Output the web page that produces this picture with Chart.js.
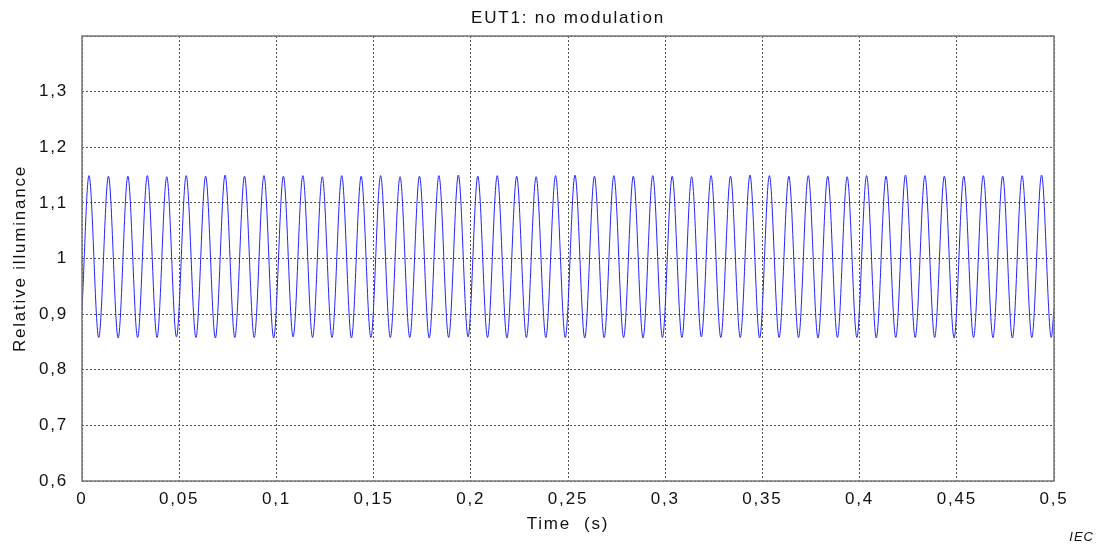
<!DOCTYPE html>
<html>
<head>
<meta charset="utf-8">
<title>EUT1: no modulation</title>
<script src="https://cdn.jsdelivr.net/npm/chart.js@4"></script>
<style>
  body { margin: 0; background: #fff; }
  #wrap { position: relative; width: 1103px; height: 548px; }
  #iec { position: absolute; right: 9px; top: 529px; font: italic 13px "Liberation Sans", Arial, sans-serif; color: #111; letter-spacing: 1px; }
  #title { position: absolute; left: 368px; width: 400px; top: 8px; text-align: center; font: 17px "Liberation Sans", Arial, sans-serif; color: #111; letter-spacing: 1.8px; }
</style>
</head>
<body>
<div id="wrap">
  <canvas id="Chart-0" width="1103" height="548"></canvas>
  <div id="title">EUT1: no modulation</div>
  <div id="iec">IEC</div>
</div>
<script>
// time of each peak / trough of the waveform (s)
var times = [0,
  0.0036, 0.0086, 0.0136, 0.0186, 0.0236, 0.0286, 0.0336, 0.0386, 0.0436, 0.0486,
  0.0536, 0.0586, 0.0636, 0.0686, 0.0736, 0.0786, 0.0836, 0.0886, 0.0936, 0.0986,
  0.1036, 0.1086, 0.1136, 0.1186, 0.1236, 0.1286, 0.1336, 0.1386, 0.1436, 0.1486,
  0.1536, 0.1586, 0.1636, 0.1686, 0.1736, 0.1786, 0.1836, 0.1886, 0.1936, 0.1986,
  0.2036, 0.2086, 0.2136, 0.2186, 0.2236, 0.2286, 0.2336, 0.2386, 0.2436, 0.2486,
  0.2536, 0.2586, 0.2636, 0.2686, 0.2736, 0.2786, 0.2836, 0.2886, 0.2936, 0.2986,
  0.3036, 0.3086, 0.3136, 0.3186, 0.3236, 0.3286, 0.3336, 0.3386, 0.3436, 0.3486,
  0.3536, 0.3586, 0.3636, 0.3686, 0.3736, 0.3786, 0.3836, 0.3886, 0.3936, 0.3986,
  0.4036, 0.4086, 0.4136, 0.4186, 0.4236, 0.4286, 0.4336, 0.4386, 0.4436, 0.4486,
  0.4536, 0.4586, 0.4636, 0.4686, 0.4736, 0.4786, 0.4836, 0.4886, 0.4936, 0.4986,
  0.5]

// relative illuminance at those times
var illuminance = [0.907,
  1.149, 0.858, 1.148, 0.857, 1.148, 0.858, 1.149, 0.858, 1.147, 0.859,
  1.149, 0.858, 1.148, 0.857, 1.150, 0.858, 1.148, 0.858, 1.149, 0.857,
  1.148, 0.859, 1.149, 0.858, 1.147, 0.858, 1.149, 0.857, 1.148, 0.858,
  1.149, 0.858, 1.147, 0.858, 1.148, 0.857, 1.149, 0.858, 1.150, 0.859,
  1.148, 0.858, 1.149, 0.857, 1.148, 0.858, 1.147, 0.858, 1.149, 0.858,
  1.150, 0.857, 1.148, 0.858, 1.149, 0.858, 1.148, 0.857, 1.149, 0.858,
  1.148, 0.858, 1.147, 0.859, 1.149, 0.858, 1.148, 0.858, 1.150, 0.857,
  1.149, 0.858, 1.148, 0.858, 1.149, 0.857, 1.148, 0.858, 1.147, 0.858,
  1.149, 0.857, 1.148, 0.858, 1.150, 0.858, 1.149, 0.858, 1.148, 0.857,
  1.148, 0.858, 1.149, 0.858, 1.148, 0.857, 1.149, 0.858, 1.150, 0.858,
  0.91]

var x_ticks = [0, 0.05, 0.1, 0.15, 0.2, 0.25, 0.3, 0.35, 0.4, 0.45, 0.5]
var y_ticks = [0.6, 0.7, 0.8, 0.9, 1, 1.1, 1.2, 1.3]

var font_family = '"Liberation Sans", Arial, sans-serif'

function comma(v){
    return String(Math.round(v * 1000) / 1000).replace('.', ',')
}

// letter spacing like the original plot
var spacing = {
    id: 'spacing',
    beforeLayout: function(chart){ chart.ctx.letterSpacing = '1.8px' },
    beforeDraw: function(chart){ chart.ctx.letterSpacing = '1.8px' }
}

// solid frame round the plot area
var frame = {
    id: 'frame',
    afterDraw: function(chart){
        var a = chart.chartArea, ctx = chart.ctx
        ctx.save()
        ctx.strokeStyle = '#777'
        ctx.lineWidth = 1.5
        ctx.setLineDash([])
        ctx.strokeRect(a.left, a.top, a.right - a.left, a.bottom - a.top)
        ctx.restore()
    }
}

var points = []
for (let i = 0; i < times.length; i++) {
    points.push({x: times[i], y: illuminance[i]})
}

var ctx = document.getElementById('Chart-0').getContext('2d');
var chart = new Chart(ctx, {
    type: 'line',
    data: {
        datasets: [{
            label: 'EUT1',
            data: points,
            borderColor: 'rgb(35,35,255)',
            borderWidth: 1,
            pointRadius: 0,
            fill: false,
            cubicInterpolationMode: 'monotone'
        }]
    },
    plugins: [spacing, frame],
    options: {
        responsive: false,
        animation: false,
        layout: { padding: { left: 0, right: 49, top: 36, bottom: 0 } },
        plugins: {
            legend: { display: false },
            tooltip: { enabled: false },
            title: { display: false }
        },
        scales: {
            x: {
                type: 'linear',
                min: 0,
                max: 0.5,
                afterBuildTicks: function(scale){ scale.ticks = x_ticks.map(v => ({value: v})) },
                afterFit: function(scale){ scale.height = 67 },
                ticks: {
                    callback: function(v){ return comma(v) },
                    color: '#111',
                    padding: 8,
                    maxRotation: 0,
                    font: { family: font_family, size: 17 }
                },
                grid: { color: '#555', lineWidth: 1, drawTicks: false },
                border: { display: false, dash: [2, 2] },
                title: {
                    display: true,
                    text: 'Time  (s)',
                    color: '#111',
                    font: { family: font_family, size: 17 },
                    padding: { top: 0, bottom: 13 }
                }
            },
            y: {
                min: 0.6,
                max: 1.4,
                afterBuildTicks: function(scale){ scale.ticks = y_ticks.concat([1.4]).map(v => ({value: v})) },
                afterFit: function(scale){ scale.width = 82 },
                ticks: {
                    callback: function(v){ return v > 1.35 ? '' : comma(v) },
                    color: '#111',
                    padding: 14,
                    font: { family: font_family, size: 17 }
                },
                grid: { color: '#555', lineWidth: 1, drawTicks: false },
                border: { display: false, dash: [2, 2] },
                title: {
                    display: true,
                    text: 'Relative illuminance',
                    color: '#111',
                    font: { family: font_family, size: 17 },
                    padding: { top: 10, bottom: 0 }
                }
            }
        }
    }
})
</script>
</body>
</html>
